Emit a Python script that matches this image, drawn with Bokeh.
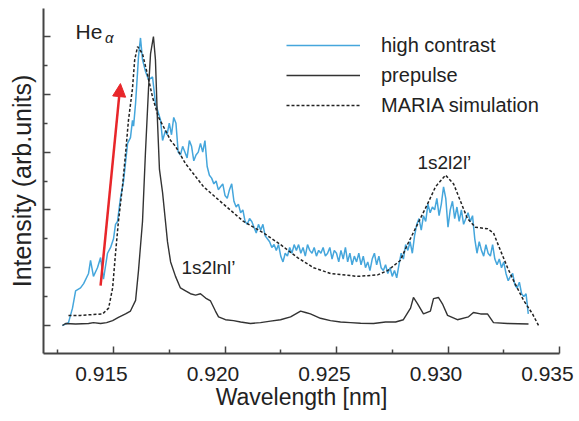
from bokeh.plotting import figure
from bokeh.models import (FixedTicker, CustomJSTickFormatter, PrintfTickFormatter, Legend,
                          LegendItem, Label, Arrow, NormalHead, Range1d, LinearAxis)
from bokeh.embed import file_html
from bokeh.resources import INLINE

# ---------------- data ----------------
hc_wl = [0.91271, 0.91298, 0.91316, 0.91330, 0.91352, 0.91366, 0.91388, 0.91397, 0.91410,
         0.91428, 0.91442, 0.91455, 0.91473, 0.91487, 0.91500, 0.91509, 0.91518, 0.91531,
         0.91545, 0.91563, 0.91576, 0.91585, 0.91590, 0.91599, 0.91608, 0.91612, 0.91621,
         0.91630, 0.91643, 0.91657, 0.91675, 0.91688, 0.91711, 0.91720, 0.91733, 0.91740,
         0.91750, 0.91760, 0.91770, 0.91780, 0.91790, 0.91800, 0.91810, 0.91820, 0.91830,
         0.91840, 0.91850, 0.91860, 0.91870, 0.91880, 0.91890, 0.91900, 0.91910, 0.91920,
         0.91930, 0.91940, 0.91950, 0.91960, 0.91970, 0.91980, 0.91990, 0.92000, 0.92010,
         0.92020, 0.92030, 0.92040, 0.92050, 0.92060, 0.92070, 0.92080, 0.92090, 0.92100,
         0.92110, 0.92120, 0.92130, 0.92140, 0.92150, 0.92160, 0.92170, 0.92180, 0.92190,
         0.92200, 0.92210, 0.92220, 0.92230, 0.92240, 0.92250, 0.92260, 0.92270, 0.92280,
         0.92290, 0.92300, 0.92310, 0.92320, 0.92330, 0.92340, 0.92350, 0.92360, 0.92370,
         0.92380, 0.92390, 0.92400, 0.92410, 0.92420, 0.92430, 0.92440, 0.92450, 0.92460,
         0.92470, 0.92480, 0.92490, 0.92500, 0.92510, 0.92520, 0.92530, 0.92540, 0.92550,
         0.92560, 0.92570, 0.92580, 0.92590, 0.92600, 0.92610, 0.92620, 0.92630, 0.92640,
         0.92650, 0.92660, 0.92670, 0.92680, 0.92690, 0.92700, 0.92710, 0.92720, 0.92730,
         0.92740, 0.92750, 0.92760, 0.92770, 0.92780, 0.92790, 0.92800, 0.92810, 0.92820,
         0.92830, 0.92840, 0.92850, 0.92860, 0.92870, 0.92880, 0.92890, 0.92900, 0.92910,
         0.92920, 0.92930, 0.92940, 0.92950, 0.92960, 0.92970, 0.92980, 0.92990, 0.93000,
         0.93010, 0.93020, 0.93030, 0.93040, 0.93050, 0.93060, 0.93070, 0.93080, 0.93090,
         0.93100, 0.93110, 0.93120, 0.93130, 0.93140, 0.93150, 0.93160, 0.93170, 0.93180,
         0.93190, 0.93200, 0.93210, 0.93220, 0.93230, 0.93240, 0.93250, 0.93260, 0.93270,
         0.93280, 0.93290, 0.93300, 0.93310, 0.93320, 0.93330, 0.93340, 0.93350, 0.93360]
hc_int = [0.00, 0.01, 0.06, 0.12, 0.13, 0.145, 0.18, 0.225, 0.17,
          0.20, 0.235, 0.16, 0.25, 0.27, 0.30, 0.35, 0.36, 0.44,
          0.50, 0.63, 0.65, 0.71, 0.69, 0.77, 0.88, 0.93, 0.995,
          0.92, 0.88, 0.85, 0.86, 0.77, 0.71, 0.64, 0.675, 0.66,
          0.70, 0.66, 0.72, 0.70, 0.60, 0.59, 0.62, 0.60, 0.58,
          0.64, 0.62, 0.57, 0.59, 0.60, 0.63, 0.60, 0.64, 0.55,
          0.52, 0.51, 0.49, 0.50, 0.47, 0.48, 0.49, 0.45, 0.44,
          0.47, 0.49, 0.43, 0.41, 0.42, 0.39, 0.40, 0.36, 0.35,
          0.37, 0.36, 0.34, 0.32, 0.35, 0.33, 0.35, 0.31, 0.30,
          0.29, 0.27, 0.28, 0.26, 0.28, 0.24, 0.22, 0.25, 0.24,
          0.27, 0.25, 0.28, 0.26, 0.28, 0.25, 0.27, 0.24, 0.28,
          0.26, 0.25, 0.27, 0.24, 0.26, 0.25, 0.27, 0.24, 0.25,
          0.27, 0.23, 0.26, 0.25, 0.22, 0.26, 0.23, 0.27, 0.22,
          0.25, 0.21, 0.24, 0.22, 0.25, 0.21, 0.24, 0.20, 0.22,
          0.19, 0.23, 0.25, 0.21, 0.24, 0.20, 0.19, 0.21, 0.18,
          0.20, 0.17, 0.19, 0.165, 0.21, 0.25, 0.23, 0.28, 0.26,
          0.29, 0.25, 0.31, 0.35, 0.37, 0.33, 0.38, 0.36, 0.42,
          0.39, 0.41, 0.40, 0.44, 0.38, 0.42, 0.48, 0.44, 0.34,
          0.40, 0.43, 0.37, 0.41, 0.36, 0.40, 0.35, 0.37, 0.39,
          0.36, 0.38, 0.30, 0.25, 0.29, 0.26, 0.24, 0.28, 0.25,
          0.24, 0.28, 0.23, 0.21, 0.23, 0.20, 0.22, 0.18, 0.155,
          0.17, 0.18, 0.14, 0.13, 0.15, 0.11, 0.10, 0.11, 0.04]

pp_wl = [0.91271, 0.91285, 0.91330, 0.91388, 0.91410, 0.91442, 0.91469, 0.91496, 0.91522,
         0.91554, 0.91576, 0.91599, 0.91612, 0.91630, 0.91643, 0.91657, 0.91666, 0.91679,
         0.91688, 0.91697, 0.91706, 0.91720, 0.91733, 0.91742, 0.91756, 0.91778, 0.91800,
         0.91823, 0.91845, 0.91868, 0.91890, 0.91913, 0.91935, 0.91957, 0.91971, 0.92002,
         0.92038, 0.92070, 0.92114, 0.92159, 0.92204, 0.92249, 0.92294, 0.92339, 0.92361,
         0.92383, 0.92428, 0.92473, 0.92518, 0.92563, 0.92608, 0.92666, 0.92720, 0.92765,
         0.92800, 0.92832, 0.92845, 0.92863, 0.92890, 0.92921, 0.92935, 0.92957, 0.92975,
         0.92998, 0.93042, 0.93092, 0.93114, 0.93146, 0.93177, 0.93204, 0.93267, 0.93361]
pp_int = [0.0, 0.007, 0.005, 0.007, 0.01, 0.007, 0.01, 0.017, 0.028,
          0.04, 0.05, 0.087, 0.19, 0.36, 0.595, 0.82, 0.94, 1.0,
          0.92, 0.71, 0.54, 0.46, 0.36, 0.29, 0.22, 0.17, 0.13,
          0.12, 0.11, 0.105, 0.11, 0.095, 0.085, 0.05, 0.03, 0.02,
          0.017, 0.012, 0.007, 0.01, 0.015, 0.02, 0.03, 0.05, 0.045,
          0.04, 0.025, 0.017, 0.012, 0.01, 0.008, 0.007, 0.012, 0.012,
          0.02, 0.06, 0.097, 0.076, 0.04, 0.05, 0.093, 0.097, 0.075,
          0.035, 0.02, 0.03, 0.045, 0.04, 0.04, 0.01, 0.007, 0.005]

sim_wl = [0.91298, 0.91352, 0.91451, 0.91478, 0.91496, 0.91509, 0.91522, 0.91540, 0.91554,
          0.91567, 0.91585, 0.91595, 0.91608, 0.91630, 0.91652, 0.91675, 0.91702, 0.91733,
          0.91756, 0.91778, 0.91823, 0.91904, 0.91993, 0.92083, 0.92173, 0.92249, 0.92325,
          0.92397, 0.92473, 0.92594, 0.92684, 0.92729, 0.92786, 0.92818, 0.92863, 0.92908,
          0.92944, 0.92989, 0.93025, 0.93056, 0.93087, 0.93123, 0.93177, 0.93204, 0.93235,
          0.93267, 0.93294, 0.93339, 0.93379, 0.93406]
sim_int = [0.035, 0.035, 0.04, 0.06, 0.13, 0.25, 0.36, 0.48, 0.595,
           0.71, 0.82, 0.92, 0.965, 0.94, 0.87, 0.79, 0.72, 0.675,
           0.64, 0.62, 0.56, 0.48, 0.42, 0.36, 0.32, 0.28, 0.235,
           0.20, 0.18, 0.17, 0.175, 0.19, 0.225, 0.28, 0.35, 0.42,
           0.48, 0.52, 0.49, 0.43, 0.37, 0.34, 0.335, 0.32, 0.26,
           0.20, 0.155, 0.087, 0.04, 0.0]

x_ticks = [0.915, 0.920, 0.925, 0.930, 0.935]
x_minor = [0.9125, 0.9175, 0.9225, 0.9275, 0.9325]
y_ticks = [0.0, 0.2, 0.4, 0.6, 0.8, 1.0]
y_minor = [0.1, 0.3, 0.5, 0.7, 0.9]
series_names = ["high contrast", "prepulse", "MARIA simulation"]

FONT = "Liberation Sans"
TXT = "#222222"
X0, X1 = 0.91186, 0.935
LABEL_SHIFT = 0.00054   # tick labels sit ~12 px left of their ticks in the reference

p = figure(width=579, height=421, output_backend="svg", toolbar_location=None,
           x_range=Range1d(X0, X1), y_range=Range1d(-0.0969, 1.0969),
           min_border_left=43, min_border_right=20, min_border_top=8, min_border_bottom=68)
p.extra_x_ranges = {"labels": Range1d(X0 + LABEL_SHIFT, X1 + LABEL_SHIFT)}
p.outline_line_color = None
p.xgrid.visible = False
p.ygrid.visible = False
p.background_fill_color = "white"

r_hc = p.line(hc_wl, hc_int, line_color="#45a6dc", line_width=1.5)
r_pp = p.line(pp_wl, pp_int, line_color="#333333", line_width=1.4)
r_sim = p.line(sim_wl, sim_int, line_color="#222222", line_width=1.5, line_dash="3 2")

blank = CustomJSTickFormatter(code="return ''")
xa = p.xaxis[0]
xa.ticker = FixedTicker(ticks=x_ticks, minor_ticks=x_minor)
xa.formatter = blank
ya = p.yaxis[0]
ya.ticker = FixedTicker(ticks=y_ticks, minor_ticks=y_minor)
ya.formatter = blank
ya.axis_label = "Intensity (arb.units)"
for ax in (xa, ya):
    ax.axis_line_color = "#444444"
    ax.axis_line_width = 2
    ax.major_tick_line_color = "#444444"
    ax.minor_tick_line_color = "#444444"
    ax.major_tick_line_width = 1.5
    ax.minor_tick_line_width = 1.5
    ax.major_tick_in = 7
    ax.major_tick_out = 0
    ax.minor_tick_in = 4
    ax.minor_tick_out = 0
    ax.major_label_standoff = 0
    ax.axis_label_text_font = FONT
    ax.axis_label_text_font_style = "normal"
    ax.axis_label_text_color = TXT
xa.axis_label_standoff = 0
ya.axis_label_text_font_size = "25px"
ya.axis_label_standoff = 8

# tick-label axis (labels only)
xl = LinearAxis(x_range_name="labels", ticker=FixedTicker(ticks=x_ticks),
                formatter=PrintfTickFormatter(format="%.3f"),
                axis_label="Wavelength [nm]")
xl.axis_line_color = None
xl.major_tick_line_color = None
xl.minor_tick_line_color = None
xl.major_tick_in = 0
xl.major_tick_out = 0
xl.minor_tick_in = 0
xl.minor_tick_out = 0
xl.major_label_standoff = 13
xl.major_label_text_font = FONT
xl.major_label_text_font_size = "21px"
xl.major_label_text_color = TXT
xl.axis_label_text_font = FONT
xl.axis_label_text_font_size = "23px"
xl.axis_label_text_font_style = "normal"
xl.axis_label_text_color = TXT
xl.axis_label_standoff = 0
p.add_layout(xl, "below")

legend = Legend(items=[LegendItem(label=series_names[0], renderers=[r_hc]),
                       LegendItem(label=series_names[1], renderers=[r_pp]),
                       LegendItem(label=series_names[2], renderers=[r_sim])],
                location=(243, 233), glyph_width=74, glyph_height=30, spacing=0,
                padding=0, margin=0, label_standoff=21, label_height=30,
                label_text_font=FONT, label_text_font_size="20px", label_text_color=TXT,
                border_line_color=None, background_fill_alpha=0)
p.add_layout(legend)

p.add_layout(Label(x=0.91330, y=1.017, text="He", text_font=FONT, text_font_size="21px",
                   text_color=TXT, text_baseline="alphabetic"))
p.add_layout(Label(x=0.91462, y=0.995, text="α", text_font=FONT, text_font_size="15px",
                   text_font_style="italic", text_color=TXT, text_baseline="alphabetic"))
p.add_layout(Label(x=0.91805, y=0.20, text="1s2lnl’", text_font=FONT, text_font_size="19px",
                   text_color=TXT, text_baseline="alphabetic"))
p.add_layout(Label(x=0.92863, y=0.564, text="1s2l2l’", text_font=FONT, text_font_size="19px",
                   text_color=TXT, text_baseline="alphabetic"))
p.add_layout(Arrow(x_start=0.91442, y_start=0.138, x_end=0.91531, y_end=0.837,
                   line_color="#e8262a", line_width=2.5,
                   end=NormalHead(size=13, fill_color="#e8262a", line_color="#e8262a")))

open("out.html", "w").write(file_html(p, INLINE))
